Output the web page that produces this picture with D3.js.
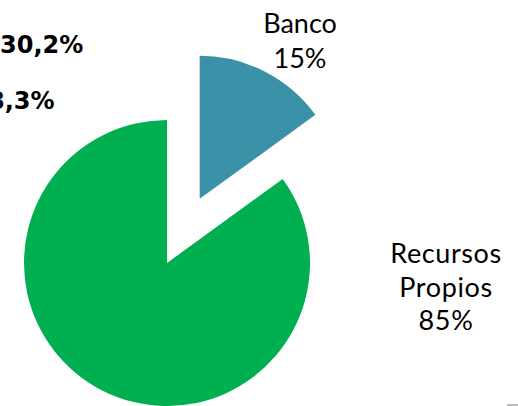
<!DOCTYPE html>
<html>
<head>
<meta charset="utf-8">
<script src="https://cdn.jsdelivr.net/npm/d3@7"></script>
<style>
  body { margin: 0; background: #fff; }
  svg { display: block; }
</style>
</head>
<body>
<svg width="518" height="406"></svg>
<script>
var svg = d3.select("svg");

var width = 518,
    height = 406;

// slices
var categories = ["Banco", "Recursos Propios"];
var values = [15, 85];
var percentLabels = ["15%", "85%"];
var colors = ["#3B92A8", "#00AF50"];

// leftover numbers from the slide at the top left
var sideNotes = ["30,2%", "8,3%"];

var cx = 167, cy = 263;
var RADIUS = 143;
var EXPLODE = 72;

var pie = d3.pie().sort(null).value(function (d) { return d; });
var arc = d3.arc().innerRadius(0).outerRadius(RADIUS);
var arcs = pie(values);

var g = svg.append("g")
    .attr("transform", "translate(" + cx + "," + cy + ")");

g.selectAll("path")
    .data(arcs)
    .enter().append("path")
    .attr("d", arc)
    .attr("fill", function (d, i) { return colors[i]; })
    .attr("transform", function (d, i) {
        if (i !== 0) return null;
        var mid = (d.startAngle + d.endAngle) / 2;
        return "translate(" + (Math.sin(mid) * EXPLODE) + "," + (-Math.cos(mid) * EXPLODE) + ")";
    });

// labels
var labelFont = "Lato, 'Open Sans', sans-serif";

var banco = svg.append("text")
    .attr("x", 300)
    .attr("y", 33)
    .attr("text-anchor", "middle")
    .attr("font-family", labelFont)
    .attr("font-size", 27)
    .attr("fill", "#000");
banco.append("tspan").attr("x", 300).text(categories[0]);
banco.append("tspan").attr("x", 300).attr("dy", 34.5).text(percentLabels[0]);

var propios = svg.append("text")
    .attr("x", 446)
    .attr("y", 263)
    .attr("text-anchor", "middle")
    .attr("font-family", labelFont)
    .attr("font-size", 27)
    .attr("letter-spacing", 0.6)
    .attr("fill", "#000");
var words = categories[1].split(" ");
propios.append("tspan").attr("x", 446).text(words[0]);
propios.append("tspan").attr("x", 446).attr("dy", 33.5).text(words[1]);
propios.append("tspan").attr("x", 446).attr("dy", 33.5).text(percentLabels[1]);

var noteFont = "'DejaVu Sans', sans-serif";

svg.append("text")
    .attr("x", 0)
    .attr("y", 53)
    .attr("font-family", noteFont)
    .attr("font-weight", "bold")
    .attr("font-size", 24)
    .text(sideNotes[0]);

svg.append("text")
    .attr("x", -12)
    .attr("y", 109)
    .attr("font-family", noteFont)
    .attr("font-weight", "bold")
    .attr("font-size", 24)
    .text(sideNotes[1]);

// tiny grey rule in the corner
svg.append("line")
    .attr("x1", 507).attr("x2", 518)
    .attr("y1", 405).attr("y2", 405)
    .attr("stroke", "#777")
    .attr("stroke-width", 1);
</script>
</body>
</html>
